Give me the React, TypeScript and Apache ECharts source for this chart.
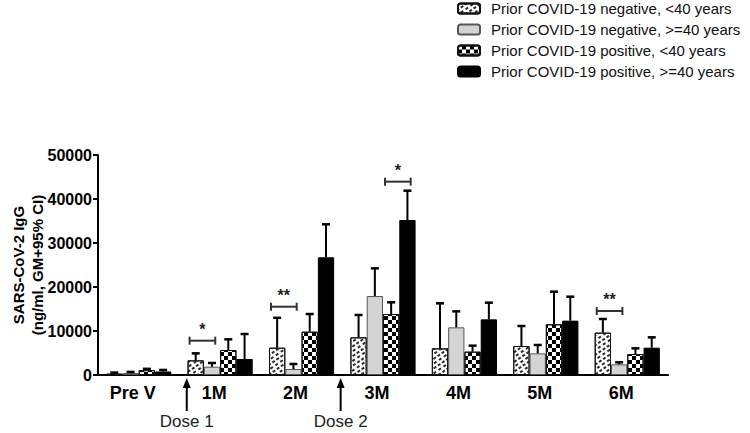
import React, { useEffect, useRef } from "react";
import * as echarts from "echarts";

const categories = ["Pre V", "1M", "2M", "3M", "4M", "5M", "6M"];
const seriesNames = [
  "Prior COVID-19 negative, <40 years",
  "Prior COVID-19 negative, >=40 years",
  "Prior COVID-19 positive, <40 years",
  "Prior COVID-19 positive, >=40 years",
];
const negYoung = [300, 3330, 6200, 8560, 6060, 6590, 9620];
const negYoungUpper = [550, 4920, 13000, 13640, 16290, 11140, 12730];
const negOld = [450, 1890, 1360, 17950, 10830, 4920, 2420];
const negOldUpper = [700, 2730, 2500, 24240, 14470, 6820, 2880];
const posYoung = [1100, 5680, 9840, 13860, 5300, 11520, 4770];
const posYoungUpper = [1400, 8110, 13860, 16520, 6670, 18940, 6060];
const posOld = [800, 3640, 26750, 35230, 12650, 12350, 6210];
const posOldUpper = [1150, 9320, 34250, 41890, 16440, 17800, 8560];
const yTicks = [0, 10000, 20000, 30000, 40000, 50000];

// significance brackets: category index, height, first bar, last bar, label
const bracketCats = [1, 2, 3, 6];
const bracketValues = [7800, 15520, 43940, 14550];
const bracketFrom = [0, 0, 2, 0];
const bracketTo = [1, 1, 3, 1];
const bracketLabels = ["*", "**", "*", "**"];

// dose arrows: placed between categories (fractional category position)
const doseLabels = ["Dose 1", "Dose 2"];
const dosePositions = [0.59, 2.48];

const CAT_GAP = 0.2;
const FONT = "'Liberation Sans', Arial, sans-serif";

export default function App() {
  const ref = useRef<HTMLDivElement>(null);
  useEffect(() => {
    document.body.style.margin = "0";
    const chart = echarts.init(ref.current!, undefined, { renderer: "svg" });
    const values = [negYoung, negOld, posYoung, posOld];
    const uppers = [negYoungUpper, negOldUpper, posYoungUpper, posOldUpper];
    const styles: any[] = [
      {
        color: "#ffffff",
        borderColor: "#111",
        borderWidth: 1,
        decal: {
          symbol: "rect",
          symbolSize: 1,
          color: "#2a2a2a",
          dashArrayX: [[3, 2], [0, 2.5, 2.5, 0]],
          dashArrayY: [1.5, 1.2],
          rotation: -0.6,
        },
      },
      { color: "#d4d4d4", borderColor: "#555", borderWidth: 1 },
      {
        color: "#ffffff",
        borderColor: "#111",
        borderWidth: 1,
        decal: {
          symbol: "rect",
          symbolSize: 1,
          color: "#000",
          dashArrayX: [[4, 4], [0, 4, 4, 0]],
          dashArrayY: [4, 0],
          rotation: 0,
        },
      },
      { color: "#000000", borderColor: "#000", borderWidth: 1 },
    ];

    const barW = (api: any) => (api.size([1, 0])[0] * (1 - CAT_GAP)) / 4;

    const series: any[] = [];
    values.forEach((v, i) => {
      series.push({
        name: seriesNames[i],
        type: "bar",
        data: v,
        barGap: "0%",
        barCategoryGap: CAT_GAP * 100 + "%",
        itemStyle: styles[i],
        z: 2,
      });
    });
    values.forEach((v, i) => {
      series.push({
        type: "custom",
        z: 3,
        silent: true,
        data: v.map((m, k) => [k, m, uppers[i][k]]),
        renderItem: (params: any, api: any) => {
          const base = api.coord([api.value(0), api.value(1)]);
          const top = api.coord([api.value(0), api.value(2)]);
          const w = barW(api);
          const cx = base[0] + (i - 1.5) * w;
          return {
            type: "group",
            children: [
              { type: "line", shape: { x1: cx, y1: base[1], x2: cx, y2: top[1] }, style: { stroke: "#000", lineWidth: 2 } },
              { type: "line", shape: { x1: cx - 4, y1: top[1], x2: cx + 4, y2: top[1] }, style: { stroke: "#000", lineWidth: 2.5 } },
            ],
          };
        },
      });
    });
    series.push({
      type: "custom",
      z: 4,
      silent: true,
      data: bracketCats.map((c, k) => [c, bracketValues[k], bracketFrom[k], bracketTo[k]]),
      renderItem: (params: any, api: any) => {
        const p = api.coord([api.value(0), api.value(1)]);
        const w = barW(api);
        const x1 = p[0] + (api.value(2) - 2) * w + 2;
        const x2 = p[0] + (api.value(3) - 2) * w + w * 0.7;
        const y = p[1];
        const st = { stroke: "#333", lineWidth: 2 };
        return {
          type: "group",
          children: [
            { type: "line", shape: { x1, y1: y, x2, y2: y }, style: st },
            { type: "line", shape: { x1, y1: y - 4, x2: x1, y2: y + 4 }, style: st },
            { type: "line", shape: { x1: x2, y1: y - 4, x2, y2: y + 4 }, style: st },
            {
              type: "text",
              style: {
                text: bracketLabels[params.dataIndex],
                x: (x1 + x2) / 2,
                y: y - 3,
                align: "center",
                verticalAlign: "bottom",
                fill: "#222",
                font: "bold 16px " + FONT,
              },
            },
          ],
        };
      },
    });

    chart.setOption({
      animation: false,
      grid: { left: 98, right: 82, top: 155, bottom: 58, containLabel: false, outerBoundsMode: "none" },
      legend: {
        data: seriesNames,
        orient: "vertical",
        left: 452,
        top: -4,
        itemWidth: 22,
        itemHeight: 10,
        itemGap: 6,
        selectedMode: false,
        textStyle: {
          fontFamily: FONT,
          fontSize: 15,
          color: "#111",
          padding: [0, 0, 0, 6],
        },
      },
      xAxis: {
        type: "category",
        data: categories,
        axisLine: { lineStyle: { color: "#000", width: 2 } },
        axisTick: { show: false },
        axisLabel: {
          color: "#000",
          fontWeight: "bold",
          fontSize: 18,
          fontFamily: FONT,
          margin: 9,
          padding: [0, 12, 0, 0],
        },
      },
      yAxis: {
        type: "value",
        min: yTicks[0],
        max: yTicks[yTicks.length - 1],
        interval: yTicks[1] - yTicks[0],
        name: "SARS-CoV-2 IgG\n(ng/ml, GM+95% CI)",
        nameLocation: "middle",
        nameGap: 51,
        nameRotate: 90,
        nameMoveOverlap: false,
        nameTextStyle: {
          color: "#000",
          fontWeight: "bold",
          fontSize: 15,
          lineHeight: 19,
          fontFamily: FONT,
        },
        splitLine: { show: false },
        axisLine: { show: true, lineStyle: { color: "#000", width: 2 } },
        axisTick: { show: true, length: 5, lineStyle: { color: "#000", width: 2 } },
        axisLabel: {
          color: "#000",
          fontWeight: "bold",
          fontSize: 16,
          fontFamily: FONT,
          margin: 6,
          formatter: (v: number) => String(v),
        },
      },
      series,
    });

    const axisY = chart.convertToPixel({ yAxisIndex: 0 }, 0) as number;
    const graphic: any[] = [];
    dosePositions.forEach((pos, k) => {
      const c = Math.floor(pos);
      const xa = chart.convertToPixel({ xAxisIndex: 0 }, c) as number;
      const xb = chart.convertToPixel({ xAxisIndex: 0 }, c + 1) as number;
      const x = xa + (pos - c) * (xb - xa);
      graphic.push({
        type: "line",
        shape: { x1: x, y1: axisY + 10, x2: x, y2: axisY + 36 },
        style: { stroke: "#000", lineWidth: 2 },
      });
      graphic.push({
        type: "polygon",
        shape: { points: [[x, axisY + 3], [x - 4, axisY + 13], [x + 4, axisY + 13]] },
        style: { fill: "#000" },
      });
      graphic.push({
        type: "text",
        x,
        y: axisY + 46,
        style: {
          text: doseLabels[k],
          align: "center",
          verticalAlign: "middle",
          fill: "#222",
          font: "17px " + FONT,
        },
      });
    });
    chart.setOption({ graphic });

    return () => chart.dispose();
  }, []);
  return <div ref={ref} style={{ width: 750, height: 433 }} />;
}
